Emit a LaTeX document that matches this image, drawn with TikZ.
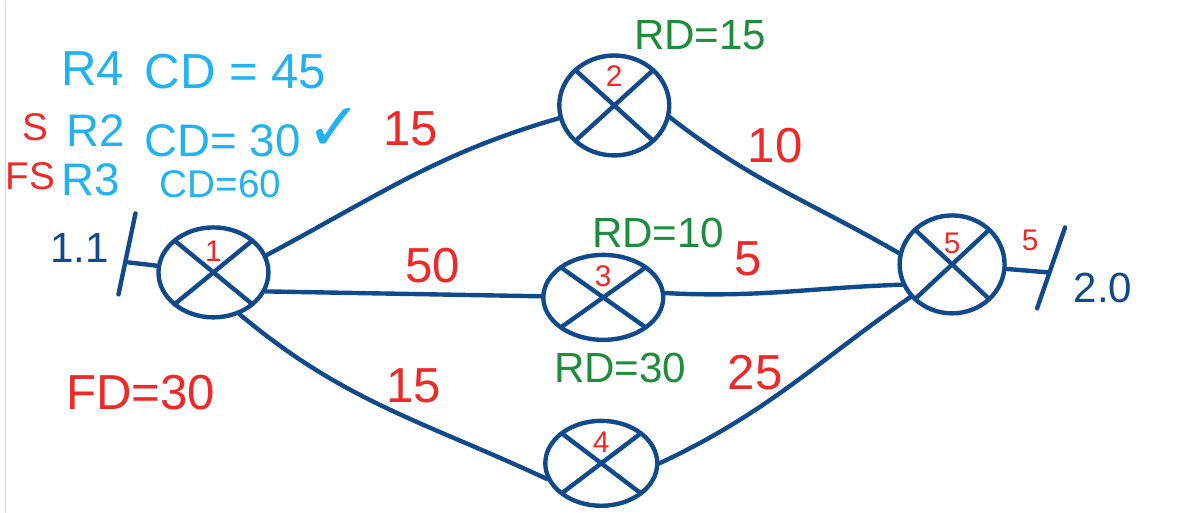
\documentclass[tikz,border=0pt]{standalone}
\usepackage{fontspec}
\setmainfont{Liberation Sans}
\newfontfamily\symfont{DejaVu Sans}
\usetikzlibrary{shapes.geometric}
\definecolor{lineblue}{RGB}{16,74,140}
\definecolor{cdblue}{RGB}{35,178,240}
\definecolor{numred}{RGB}{240,40,40}
\definecolor{rdgreen}{RGB}{30,140,60}

\begin{document}
\begin{tikzpicture}[x=0.02cm, y=0.02cm, line width=2.5pt, color=lineblue, line cap=round,
    main/.style = {draw, ellipse, inner sep=0pt, minimum width=2.2cm, minimum height=1.8cm,
        text=numred, font=\fontsize{17}{17}\selectfont, text height=0pt, text depth=12pt,
        path picture={\draw (path picture bounding box.south west) -- (path picture bounding box.north east)
            (path picture bounding box.north west) -- (path picture bounding box.south east);}},
    cd/.style = {text=cdblue, font=\fontsize{28}{30}\selectfont},
    cost/.style = {text=numred, font=\fontsize{28}{30}\selectfont},
    rd/.style = {text=rdgreen, font=\fontsize{24}{30}\selectfont},
    addr/.style = {text=lineblue, font=\fontsize{24}{26}\selectfont}]
    \path[fill=white] (0,0) rectangle (1198,512);
    \draw[gray!30, line width=0.6pt] (5,0) -- (5,512);

    \node[main] (1) at (213,240) {1};
    \node[main, minimum height=2cm, text depth=22pt] (2) at (614,407) {2};
    \node[main, minimum width=2.4cm, minimum height=1.7cm] (3) at (603,215) {3};
    \node[main, minimum width=2.24cm, minimum height=1.7cm] (4) at (601,49) {4};
    \node[main, minimum width=2.1cm, minimum height=1.96cm] (5) at (952,248) {5};

    \coordinate (lt) at (135,299);
    \coordinate (lb) at (118,218);
    \coordinate (lin) at (128,250);
    \coordinate (rt) at (1065,285);
    \coordinate (rb) at (1037,204);
    \coordinate (rout) at (1048,240);

    \draw (lt) -- (lb);
    \draw (rt) -- (rb);
    \draw (lin) -- (1);
    \draw (1.18) to[out=28, in=196] (2.193);
    \draw (1.340) -- (3);
    \draw (1.302) to[out=-40, in=155] (4.196);
    \draw (2.348) to[out=-38, in=150] (5.168);
    \draw (3.4) to[out=-3, in=182] (5.202);
    \draw (4.0) to[out=25, in=215] (5.218);
    \draw (5) -- (rout);

    \node[cd] (r4) at (92,444) {R4};
    \node[cd] (cd4) at (235,441) {CD = 45};
    \node[cost, font=\fontsize{22}{24}\selectfont] (s) at (35,385) {S};
    \node[cd, font=\fontsize{26}{28}\selectfont] (r2) at (95,382) {R2};
    \node[cd, font=\fontsize{26}{28}\selectfont] (cd2) at (222,372) {CD= 30};
    \node[cd, font=\symfont\fontsize{38}{40}\selectfont] (ok) at (334,383) {✓};
    \node[cost] (c12) at (410,384) {15};
    \node[cost, font=\fontsize{22}{24}\selectfont] (fs) at (30,336) {FS};
    \node[cd, font=\fontsize{26}{28}\selectfont] (r3) at (90,333) {R3};
    \node[cd, font=\fontsize{22}{24}\selectfont] (cd3) at (220,328) {CD=60};
    \node[addr] (src) at (79,264) {1.1};
    \node[cost] (fd) at (140,120) {FD=30};
    \node[rd] (rd2) at (700,477) {RD=15};
    \node[cost] (c25) at (775,367) {10};
    \node[rd] (rd3) at (658,279) {RD=10};
    \node[cost] (c35) at (748,254) {5};
    \node[cost] (c13) at (432,247) {50};
    \node[rd] (rd4) at (620,144) {RD=30};
    \node[cost] (c45) at (755,140) {25};
    \node[cost] (c14) at (413,127) {15};
    \node[cost, font=\fontsize{17}{17}\selectfont] (c5) at (1030,272) {5};
    \node[addr] (dst) at (1103,224) {2.0};
\end{tikzpicture}
\end{document}
